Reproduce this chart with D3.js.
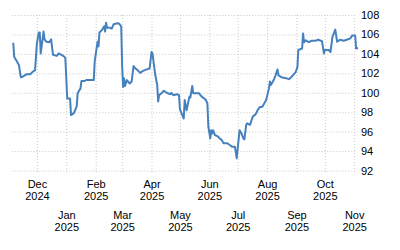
<!DOCTYPE html>
<html>
<head>
<meta charset="utf-8">
<script src="https://cdn.jsdelivr.net/npm/d3@7"></script>
<style>
  body { margin: 0; background: #fff; }
  svg { display: block; }
</style>
</head>
<body>
<svg id="chart" width="400" height="250"></svg>
<script>
// Series
const dates = [
  "2024-11-06", "2024-11-07", "2024-11-10", "2024-11-12", "2024-11-14", "2024-11-16",
  "2024-11-20", "2024-11-24", "2024-11-27", "2024-11-29", "2024-12-01", "2024-12-03",
  "2024-12-04", "2024-12-05", "2024-12-08", "2024-12-09", "2024-12-11", "2024-12-14",
  "2024-12-16", "2024-12-18", "2024-12-22", "2024-12-24", "2024-12-27", "2024-12-30",
  "2024-12-31", "2025-01-02", "2025-01-05", "2025-01-06", "2025-01-09", "2025-01-12",
  "2025-01-13", "2025-01-16", "2025-01-17", "2025-01-20", "2025-01-22", "2025-01-30",
  "2025-01-31", "2025-02-03", "2025-02-04", "2025-02-05", "2025-02-08", "2025-02-10",
  "2025-02-11", "2025-02-12", "2025-02-13", "2025-02-16", "2025-02-18", "2025-02-20",
  "2025-02-24", "2025-02-26", "2025-02-28", "2025-03-01", "2025-03-02", "2025-03-03",
  "2025-03-04", "2025-03-06", "2025-03-09", "2025-03-11", "2025-03-13", "2025-03-15",
  "2025-03-17", "2025-03-20", "2025-03-23", "2025-03-27", "2025-03-30", "2025-04-01",
  "2025-04-02", "2025-04-05", "2025-04-07", "2025-04-08", "2025-04-09", "2025-04-12",
  "2025-04-14", "2025-04-18", "2025-04-21", "2025-04-22", "2025-04-24", "2025-04-28",
  "2025-04-30", "2025-05-01", "2025-05-05", "2025-05-06", "2025-05-08", "2025-05-11",
  "2025-05-12", "2025-05-14", "2025-05-15", "2025-05-21", "2025-05-24", "2025-05-28",
  "2025-05-30", "2025-05-31", "2025-06-02", "2025-06-03", "2025-06-04", "2025-06-05",
  "2025-06-07", "2025-06-10", "2025-06-12", "2025-06-14", "2025-06-16", "2025-06-20",
  "2025-06-23", "2025-06-25", "2025-06-28", "2025-06-30", "2025-07-01", "2025-07-03",
  "2025-07-05", "2025-07-07", "2025-07-08", "2025-07-10", "2025-07-11", "2025-07-14",
  "2025-07-15", "2025-07-17", "2025-07-20", "2025-07-22", "2025-07-24", "2025-07-27",
  "2025-07-29", "2025-07-31", "2025-08-03", "2025-08-04", "2025-08-05", "2025-08-08",
  "2025-08-10", "2025-08-12", "2025-08-13", "2025-08-16", "2025-08-21", "2025-08-24",
  "2025-08-27", "2025-08-31", "2025-09-02", "2025-09-03", "2025-09-07", "2025-09-08",
  "2025-09-09", "2025-09-11", "2025-09-14", "2025-09-17", "2025-09-21", "2025-09-24",
  "2025-09-28", "2025-09-30", "2025-10-01", "2025-10-05", "2025-10-07", "2025-10-09",
  "2025-10-12", "2025-10-14", "2025-10-17", "2025-10-21", "2025-10-24", "2025-10-28",
  "2025-10-30", "2025-11-02", "2025-11-03", "2025-11-05"
];
const values = [
  105.15, 103.7, 103.2, 102.85, 101.6, 101.65,
  101.9, 101.9, 102.2, 102.3, 105.1, 106.2,
  106.2, 104.05, 106.3, 105.5, 105.25, 105.2,
  105.5, 103.9, 103.8, 104.05, 103.9, 103.7,
  103.55, 99.4, 99.4, 97.7, 97.9, 98.6,
  99.95, 100.45, 101.2, 101.2, 101.3, 101.3,
  103.2, 105.25, 104.75, 106.2, 106.5, 106.85,
  106.3, 107.2, 106.7, 106.7, 106.6, 107.05,
  107.15, 107.1, 106.8, 102.7, 100.6, 101.5,
  100.7, 101.3, 100.95, 101.15, 102.75, 102.5,
  102.35, 102.05, 102.25, 102.4, 102.5, 104.2,
  104.05, 101.8, 100.8, 99.1, 99.75, 100.0,
  100.2, 99.95, 99.85, 100.0, 99.75, 99.85,
  99.75, 98.3, 97.35, 99.25, 98.2, 99.6,
  99.5, 100.7, 99.95, 99.95, 99.6, 99.3,
  98.9, 96.5, 95.3, 96.15, 95.8, 96.15,
  95.65, 95.5, 95.3, 95.15, 94.8, 94.8,
  94.6, 94.45, 94.45, 93.25, 94.3, 96.15,
  95.8, 95.3, 95.2, 96.7, 96.85, 96.7,
  97.0, 97.55, 97.8, 98.2, 98.5, 98.55,
  98.9, 99.25, 100.45, 101.15, 100.8, 101.3,
  101.8, 102.4, 101.8, 101.6, 101.5, 101.4,
  101.65, 102.1, 102.6, 104.4, 104.55, 106.1,
  105.2, 105.4, 105.2, 105.35, 105.35, 105.45,
  105.3, 104.05, 104.4, 104.4, 104.2, 105.75,
  106.5, 105.25, 105.45, 105.35, 105.45, 105.6,
  105.9, 105.9, 104.55, 104.6
];
const yTicks = [92, 94, 96, 98, 100, 102, 104, 106, 108];
const xStart = "2024-11-05";
const xEnd = "2025-11-05";

(function() {
  const svg = d3.select("#chart");
  const parse = d3.utcParse("%Y-%m-%d");
  const data = dates.map((d, i) => ({ date: parse(d), value: values[i] }));

  const plotLeft = 12.3, plotRight = 358, plotTop = 15, plotBottom = 170.5;
  const gridRight = 355;

  const x = d3.scaleUtc()
    .domain([parse(xStart), parse(xEnd)])
    .range([plotLeft, plotRight]);
  const y = d3.scaleLinear()
    .domain([92, 108])
    .range([plotBottom, plotTop]);

  const FONT = "'Liberation Sans', Arial, sans-serif";
  const GRID = "#c8c8c8";

  // y axis: horizontal gridlines, labels on the right
  const yAxis = svg.append("g")
    .attr("transform", `translate(${plotLeft},0)`)
    .call(d3.axisRight(y)
      .tickValues(yTicks)
      .tickSize(gridRight - plotLeft)
      .tickPadding(6)
      .tickFormat(d3.format("d")));
  yAxis.select(".domain").remove();
  yAxis.selectAll(".tick line")
    .attr("stroke", GRID)
    .attr("stroke-dasharray", "1,2");
  yAxis.selectAll(".tick text")
    .attr("font-family", FONT)
    .attr("font-size", 11)
    .attr("fill", "#000");

  // x axis: monthly vertical gridlines, labels in two staggered rows
  const xAxis = svg.append("g")
    .attr("transform", `translate(0,${plotBottom})`)
    .call(d3.axisBottom(x)
      .ticks(d3.utcMonth.every(1))
      .tickSize(-(plotBottom - plotTop))
      .tickFormat(""));
  xAxis.select(".domain").remove();
  xAxis.selectAll(".tick line")
    .attr("stroke", GRID)
    .attr("stroke-dasharray", "1,2")
    .attr("y2", -(plotBottom - plotTop) - 0.5)
    .attr("y1", 1.5);

  const fmtMonth = d3.utcFormat("%b");
  const fmtYear = d3.utcFormat("%Y");
  xAxis.selectAll(".tick text").remove();
  xAxis.selectAll(".tick").each(function(d, i) {
    const row = i % 2;
    const t = d3.select(this).append("text")
      .attr("text-anchor", "middle")
      .attr("font-family", FONT)
      .attr("font-size", 11)
      .attr("fill", "#000")
      .attr("y", row === 0 ? 17 : 48.2);
    t.append("tspan").attr("x", 0).text(fmtMonth(d));
    t.append("tspan").attr("x", 0).attr("dy", 12.5).text(fmtYear(d));
  });

  // the series
  const line = d3.line()
    .x(d => x(d.date))
    .y(d => y(d.value));

  svg.append("path")
    .datum(data)
    .attr("d", line)
    .attr("fill", "none")
    .attr("stroke", "#4581bc")
    .attr("stroke-width", 2)
    .attr("stroke-linejoin", "round");
})();
</script>
</body>
</html>
